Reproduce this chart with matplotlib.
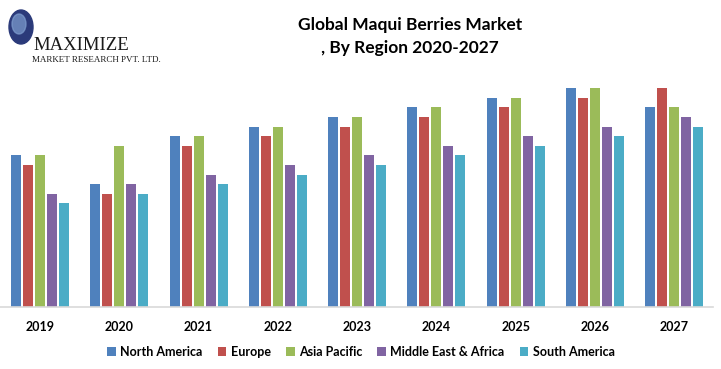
import matplotlib
matplotlib.use("Agg")
import matplotlib.pyplot as plt
import numpy as np
from matplotlib.patches import Patch, Ellipse

years = ["2019", "2020", "2021", "2022", "2023", "2024", "2025", "2026", "2027"]
regions = ["North America", "Europe", "Asia Pacific", "Middle East & Africa", "South America"]
north_america = [15.8, 12.8, 17.8, 18.8, 19.8, 20.8, 21.8, 22.8, 20.8]
europe = [14.8, 11.8, 16.8, 17.8, 18.8, 19.8, 20.8, 21.8, 22.8]
asia_pacific = [15.8, 16.8, 17.8, 18.8, 19.8, 20.8, 21.8, 22.8, 20.8]
middle_east_africa = [11.8, 12.8, 13.8, 14.8, 15.8, 16.8, 17.8, 18.8, 19.8]
south_america = [10.8, 11.8, 12.8, 13.8, 14.8, 15.8, 16.8, 17.8, 18.8]
series = [north_america, europe, asia_pacific, middle_east_africa, south_america]
colors = ["#4F81BD", "#C0504D", "#9BBB59", "#8064A2", "#4BACC6"]

W, H = 721, 369
fig = plt.figure(figsize=(W / 100, H / 100), dpi=100)

# logo layer (behind)
lax = fig.add_axes([0, 0, 1, 1], zorder=0)
lax.set_xlim(0, W)
lax.set_ylim(H, 0)
lax.axis("off")
lax.add_patch(Ellipse((21, 27), 24, 34, color="#2b3a7a"))
lax.add_patch(Ellipse((19, 24), 14, 20, color="#7f9ed0", alpha=0.7))
lax.text(33, 46, "MAXIMIZE", fontfamily="Liberation Serif", fontsize=13.5, va="center", ha="left",
         color="#1a1a1a", fontstretch="condensed")
lax.text(32, 59.5, "MARKET RESEARCH PVT. LTD.", fontfamily="Liberation Serif", fontsize=6.5,
         va="center", ha="left", color="#1a1a1a")

ax_left, ax_right, ax_bottom, ax_top = 0, 713, 307, 60
ax = fig.add_axes([ax_left / W, (H - ax_bottom) / H, (ax_right - ax_left) / W, (ax_bottom - ax_top) / H], zorder=1)
ax.set_facecolor("none")

x = np.arange(len(years))
pitch = 12 / 79.25
width = 10 / 79.25
for i, (vals, c) in enumerate(zip(series, colors)):
    ax.bar(x + (i - 2) * pitch, vals, width=width, color=c, label=regions[i], zorder=2)

ax.set_xlim(-0.505, 8.49)
ax.set_ylim(0, (ax_bottom - ax_top) / 9.6)
for s in ["top", "right", "left"]:
    ax.spines[s].set_visible(False)
ax.spines["bottom"].set_color("#d9d9d9")
ax.spines["bottom"].set_linewidth(1.2)
ax.set_yticks([])
ax.set_xticks(x)
ax.set_xticklabels(years, fontfamily="Lato", fontweight="bold", fontsize=9)
ax.tick_params(axis="x", length=0, pad=10)

fig.text(410 / W, 1 - 25 / H, "Global Maqui Berries Market", ha="center", va="center",
         fontfamily="Lato", fontweight="bold", fontsize=12.5)
fig.text(410 / W, 1 - 48 / H, ", By Region 2020-2027", ha="center", va="center",
         fontfamily="Lato", fontweight="bold", fontsize=12.5)

handles = [Patch(facecolor=c, edgecolor="none") for c in colors]
leg = fig.legend(handles, regions, loc="center", bbox_to_anchor=(361 / W, 1 - 352 / H), ncol=5,
                 frameon=False, handlelength=0.7, handleheight=0.7, handletextpad=0.35,
                 columnspacing=1.2, prop={"family": "Lato", "weight": "bold", "size": 9})

fig.savefig("out.png", dpi=100)
